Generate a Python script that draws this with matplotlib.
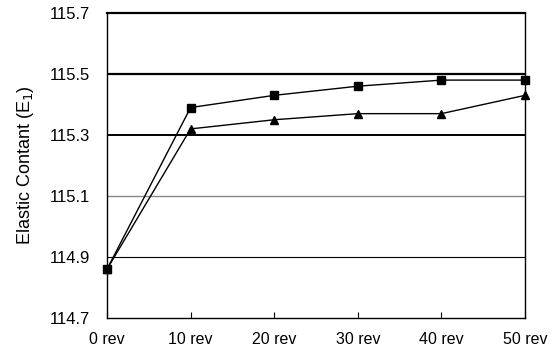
import matplotlib
matplotlib.use('Agg')
import matplotlib.pyplot as plt

plt.rcParams['font.family'] = ['Liberation Sans', 'DejaVu Sans']

revs = [0, 10, 20, 30, 40, 50]
rev_labels = ['0 rev', '10 rev', '20 rev', '30 rev', '40 rev', '50 rev']
square_vals = [114.86, 115.39, 115.43, 115.46, 115.48, 115.48]
triangle_vals = [114.86, 115.32, 115.35, 115.37, 115.37, 115.43]
y_ticks = [114.7, 114.9, 115.1, 115.3, 115.5, 115.7]

fig = plt.figure(figsize=(5.57, 3.58), dpi=100)
ax = fig.add_axes([107/557, 40/358, 418/557, 305/358])

# horizontal grid lines, different weights as in the original
ax.axhline(115.5, color='black', lw=1.6, zorder=1)
ax.axhline(115.3, color='black', lw=1.4, zorder=1)
ax.axhline(115.1, color='#888888', lw=1.0, zorder=1)
ax.axhline(114.9, color='black', lw=0.8, zorder=1)

ax.plot(revs, square_vals, color='black', lw=1.0, marker='s', ms=6, zorder=3, clip_on=False)
ax.plot(revs, triangle_vals, color='black', lw=1.0, marker='^', ms=6, zorder=3, clip_on=False)

ax.set_xlim(0, 50)
ax.set_ylim(114.7, 115.7)
ax.set_xticks(revs)
ax.set_xticklabels(rev_labels)
ax.set_yticks(y_ticks)
ax.set_yticklabels(['%.1f' % v for v in y_ticks])
ax.tick_params(axis='x', direction='in', length=4, labelsize=11.5, pad=10)
ax.tick_params(axis='y', length=0, labelsize=12, pad=12)
ax.set_ylabel('Elastic Contant (E$_1$)', fontsize=13, labelpad=10)

for s in ax.spines.values():
    s.set_linewidth(1.0)
ax.spines['top'].set_linewidth(1.6)

fig.savefig('out.png', dpi=100)
